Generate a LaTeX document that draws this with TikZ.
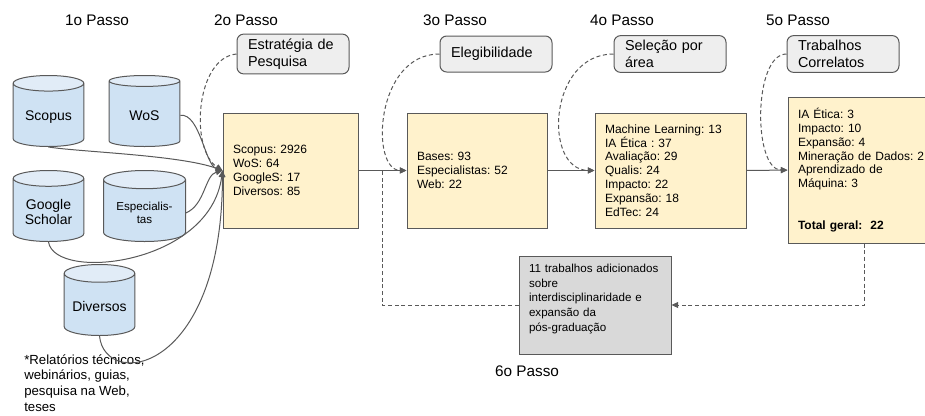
\documentclass[tikz,border=0pt]{standalone}
\usepackage{fontspec}
\setmainfont{Liberation Sans}
\frenchspacing
\usetikzlibrary{shapes.geometric,arrows.meta}
\definecolor{linegray}{HTML}{595959}
\definecolor{boxyellow}{HTML}{FFF2CC}
\definecolor{callgray}{HTML}{EEEEEE}
\definecolor{boxgray}{HTML}{D9D9D9}
\definecolor{dbbody}{HTML}{CFE2F3}
\definecolor{dbtop}{HTML}{E1ECF7}
\begin{document}
\begin{tikzpicture}[x=0.75pt,y=-0.75pt,
    passo/.style={inner sep=0pt,font=\fontsize{11.5}{14}\selectfont},
    base/.style={cylinder,shape border rotate=90,aspect=0.28,draw=linegray,line width=0.75pt,
      cylinder uses custom fill,cylinder body fill=dbbody,cylinder end fill=dbtop,anchor=south,
      minimum width=53pt,minimum height=53.25pt,align=center,font=\fontsize{10.5}{11.8}\selectfont},
    dados/.style={draw=linegray,fill=boxyellow,line width=0.75pt,align=left,inner xsep=7.5pt,
      font=\fontsize{9}{10.4}\selectfont},
    nota/.style={draw=linegray,fill=callgray,line width=0.75pt,rounded corners=5pt,text width=67.5pt,
      inner xsep=8.25pt,minimum height=27pt,align=left,font=\fontsize{10.8}{13}\selectfont},
    liga/.style={draw=linegray,line width=0.75pt,-{Triangle[length=5pt,width=4.5pt]}},
    tracejado/.style={liga,dash pattern=on 3pt off 2pt}]
  \useasboundingbox (0,0) rectangle (925,415);
  \clip (0,0) rectangle (925,415);

  % passos
  \node[passo] (p1) at (97,20) {1o Passo};
  \node[passo] (p2) at (246,20) {2o Passo};
  \node[passo] (p3) at (455,20) {3o Passo};
  \node[passo] (p4) at (622,20) {4o Passo};
  \node[passo] (p5) at (798,20) {5o Passo};
  \node[passo] (p6) at (527,371) {6o Passo};

  % bases (posicionadas pelo fundo)
  \node[base] (scopus) at (48.5,147) {Scopus};
  \node[base] (wos) at (144.5,147) {WoS};
  \node[base] (google) at (48.5,242) {Google\\Scholar};
  \node[base,minimum width=61.5pt,font=\fontsize{8.7}{9.8}\selectfont] (esp) at (144.5,242) {Especialis-\\tas};
  \node[base] (diversos) at (99.5,336) {Diversos};
  \node[inner sep=0pt,anchor=west,align=left,font=\fontsize{9.9}{11.8}\selectfont] (obs) at (24,383)
    {*Relatórios técnicos,\\webinários, guias,\\pesquisa na Web,\\teses};

  % caixas
  \node[dados,text width=86.25pt,minimum height=86.25pt] (b1) at (290.5,170.5)
    {Scopus: 2926\\WoS: 64\\GoogleS: 17\\Diversos: 85};
  \node[dados,text width=90pt,minimum height=86.25pt] (b2) at (477,170.5)
    {Bases: 93\\Especialistas: 52\\Web: 22};
  \node[dados,text width=98.25pt,minimum height=86.25pt] (b3) at (670.5,170.5)
    {Machine Learning: 13\\IA Ética : 37\\Avaliação: 29\\Qualis: 24\\Impacto: 22\\Expansão: 18\\EdTec: 24};
  \node[dados,text width=99pt,minimum height=109.5pt] (b4) at (864,170)
    {IA Ética: 3\\Impacto: 10\\Expansão: 4\\Mineração de Dados: 2\\Aprendizado de\\Máquina: 3\\[2\baselineskip]\textbf{Total geral:\ \ 22}};
  \node[dados,fill=boxgray,text width=99pt,minimum height=73.5pt,font=\fontsize{8.7}{10.9}\selectfont] (g) at (595,305)
    {11 trabalhos adicionados\\sobre\\interdisciplinaridade e\\expansão da\\pós-graduação\\ \mbox{}};

  % notas
  \node[nota] (n2) at (293,54) {Estratégia de\\Pesquisa};
  \node[nota] (n3) at (496,54) {Elegibilidade};
  \node[nota] (n4) at (670,54) {Seleção por\\área};
  \node[nota] (n5) at (843,54) {Trabalhos\\Correlatos};

  \coordinate (junta) at (382,170.5);

  \begin{scope}[liga]
    \draw (scopus.south) .. controls (80,152) and (180,155) .. (b1.west);
    \draw (wos.east) .. controls (200,113) and (205,165) .. (b1.west);
    \draw (esp.east) .. controls (205,205) and (205,175) .. (b1.west);
    \draw (google.south) .. controls (55,282) and (210,265) .. (b1.west);
    \draw (diversos.south) .. controls (105,390) and (222,375) .. (b1.west);
    \draw (b1) to (b2);
    \draw (b2) to (b3);
    \draw (b3) to (b4);
  \end{scope}
  \begin{scope}[tracejado]
    \draw (n2.west) .. controls (195,58) and (190,150) .. (b1.west);
    \draw (n3.west) .. controls (375,54) and (370,170) .. (b2.west);
    \draw (n4.west) .. controls (548,54) and (543,170) .. (b3.west);
    \draw (n5.west) .. controls (753,54) and (753,170) .. (b4.west);
    \draw (b4.south) |- (g.east);
    \draw[-] (g.west) -| (junta);
  \end{scope}
\end{tikzpicture}
\end{document}
